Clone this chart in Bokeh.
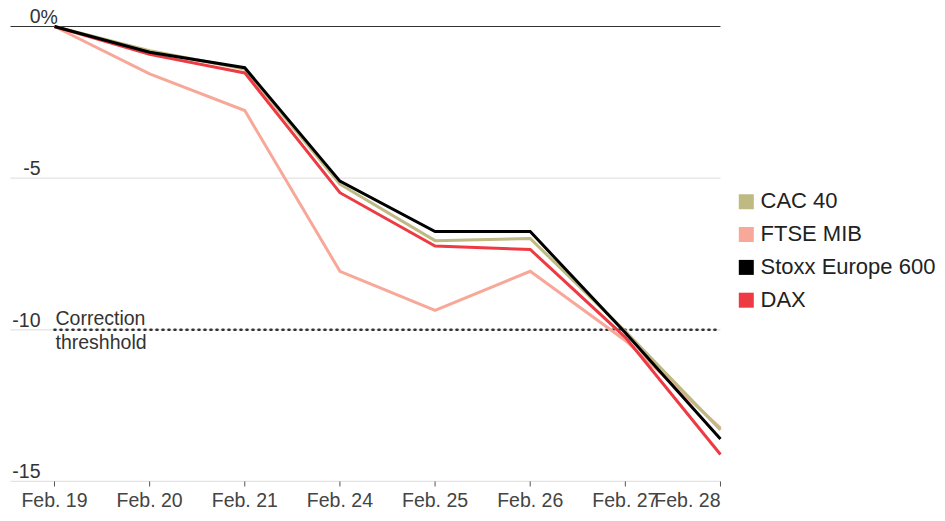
from bokeh.plotting import figure
from bokeh.models import Range1d
from bokeh.embed import file_html
from bokeh.resources import INLINE
from bokeh.core.properties import value

# ---- data ----
dates = ["Feb. 19", "Feb. 20", "Feb. 21", "Feb. 24", "Feb. 25", "Feb. 26", "Feb. 27", "Feb. 28"]
cac40 = [0, -0.80, -1.40, -5.20, -7.06, -6.99, -10.05, -13.30]
ftse_mib = [0, -1.56, -2.77, -8.07, -9.36, -8.07, -10.35, -13.24]
stoxx600 = [0, -0.85, -1.36, -5.10, -6.76, -6.76, -10.10, -13.60]
dax = [0, -0.92, -1.53, -5.48, -7.24, -7.35, -10.25, -14.11]
series_names = ["CAC 40", "FTSE MIB", "Stoxx Europe 600", "DAX"]
series_colors = ["#bfb982", "#f7a898", "#000000", "#ee3a43"]
y_ticks = [0, -5, -10, -15]
y_tick_labels = ["0", "-5", "-10", "-15"]
threshold = -10
threshold_label = ["Correction", "threshhold"]

# ---- pixel helpers (picture coordinates -> data) ----
X0, XS = 54.0, 95.14
Y0, YS = 26.0, 30.33
def X(px):
    return (px - X0) / XS
def Y(py):
    return -(py - Y0) / YS

AX_FS = 19.5
LG_FS = 22.0
def TY(py, fs):
    # baseline position corrected for the svg text placement
    return Y(py - 0.37 * fs)

W, H = 945, 521
FONT = value("Liberation Sans")

p = figure(width=W, height=H, output_backend="svg", toolbar_location=None,
           x_range=Range1d(X(0), X(W)), y_range=Range1d(Y(H), Y(0)),
           x_axis_location=None, y_axis_location=None, min_border=0)
p.outline_line_color = None
p.xgrid.visible = False
p.ygrid.visible = False
p.background_fill_color = "white"
p.border_fill_color = "white"

n = len(dates)
xs = list(range(n))
x_left = X(10)
x_right = n - 1

# gridlines
grid_y = [t for t in y_ticks if t != 0]
p.segment(x0=[x_left] * len(grid_y), x1=[x_right] * len(grid_y), y0=grid_y, y1=grid_y,
          line_color="#e3e3e3", line_width=1.2)
p.segment(x0=[x_left], x1=[x_right], y0=[0], y1=[0], line_color="#333333", line_width=1.2)

# x ticks
p.segment(x0=xs, x1=xs, y0=[min(y_ticks)] * n, y1=[Y(486)] * n, line_color="#555555", line_width=1)

# x labels
fs = f"{AX_FS}px"
p.text(x=xs[:-1], y=[TY(507, AX_FS)] * (n - 1), text=dates[:-1], text_align="center",
       text_baseline="alphabetic", text_font=FONT, text_font_size=fs, text_color="#444444")
p.text(x=[xs[-1]], y=[TY(507, AX_FS)], text=[dates[-1]], text_align="right",
       text_baseline="alphabetic", text_font=FONT, text_font_size=fs, text_color="#444444")

# y labels
p.text(x=[X(40)] * len(y_ticks), y=[TY(Y0 - YS * t - 3, AX_FS) for t in y_ticks], text=y_tick_labels,
       text_align="right", text_baseline="alphabetic", text_font=FONT,
       text_font_size=fs, text_color="#333333")
p.text(x=[X(40)], y=[TY(Y0 - 2, AX_FS)], text=["%"], text_align="left", text_baseline="alphabetic",
       text_font=FONT, text_font_size=fs, text_color="#333333")

# threshold line and label
thr_py = Y0 - YS * threshold
p.line(x=[X(54), x_right], y=[threshold, threshold], line_color="#333333", line_width=2.6,
       line_dash="1 5", line_cap="round")
p.text(x=[X(55)], y=[TY(thr_py - 5, AX_FS)], text=[threshold_label[0]], text_align="left",
       text_baseline="alphabetic", text_font=FONT, text_font_size=fs, text_color="#333333")
p.text(x=[X(55)], y=[TY(thr_py + 19, AX_FS)], text=[threshold_label[1]], text_align="left",
       text_baseline="alphabetic", text_font=FONT, text_font_size=fs, text_color="#333333")

# series lines (draw order)
series = {"CAC 40": cac40, "FTSE MIB": ftse_mib, "Stoxx Europe 600": stoxx600, "DAX": dax}
colors = dict(zip(series_names, series_colors))
for name in ["FTSE MIB", "CAC 40", "DAX", "Stoxx Europe 600"]:
    p.line(x=xs, y=series[name], line_color=colors[name], line_width=3, line_join="miter")

# legend (manual)
base = [208.3 + 32.8 * i for i in range(len(series_names))]
p.rect(x=[X(745.8)] * len(series_names), y=[Y(b - 7) for b in base], width=15, height=15,
       width_units="screen", height_units="screen", fill_color=series_colors, line_color=None)
p.text(x=[X(760)] * len(series_names), y=[TY(b, LG_FS) for b in base], text=series_names,
       text_align="left", text_baseline="alphabetic", text_font=FONT,
       text_font_size=f"{LG_FS}px", text_color="#222222")

open("out.html", "w").write(file_html(p, INLINE))
